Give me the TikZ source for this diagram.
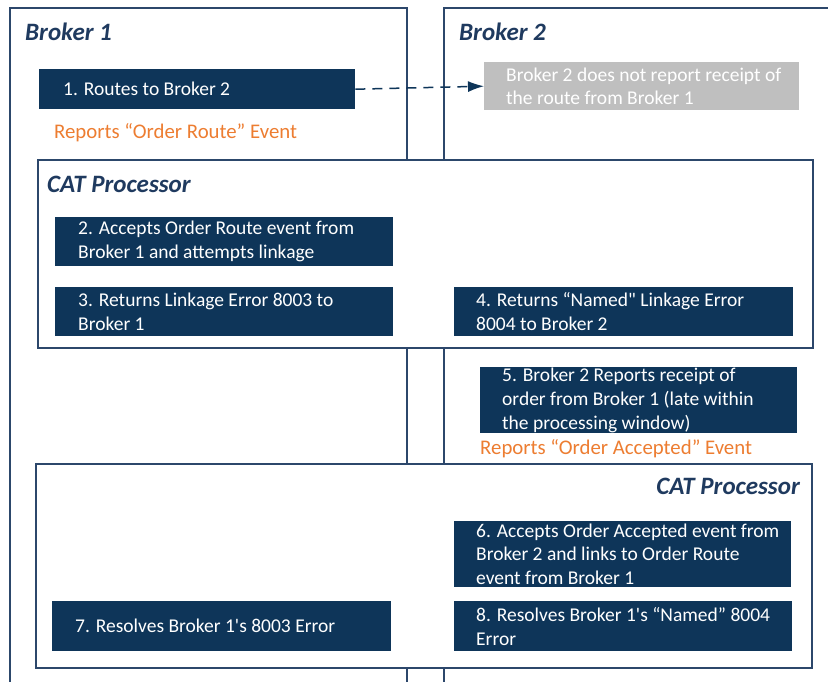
\documentclass[tikz,border=0pt]{standalone}
\usepackage{fontspec}
\setmainfont{Carlito}[Ligatures=TeXOff]
\usetikzlibrary{arrows.meta}
\definecolor{navy}{HTML}{0E3559}
\definecolor{frame}{HTML}{2C476B}
\definecolor{titleblue}{HTML}{1F3A5F}
\definecolor{orangeev}{HTML}{ED7D31}
\definecolor{greybox}{HTML}{BFBFBF}
\tikzset{
  brokerline/.style={draw=frame, line width=1.9pt},
  catbox/.style={draw=frame, line width=1.4pt, fill=white},
  stepbox/.style={rectangle, fill=navy, draw=none, anchor=north west, inner sep=0pt},
  greystep/.style={rectangle, fill=greybox, draw=none, anchor=north west, inner sep=0pt},
  steptext/.style={anchor=west, align=left, inner sep=0pt, text=white,
    font=\fontsize{19.5}{23.8}\selectfont},
  titletext/.style={inner sep=0pt, text=titleblue,
    font=\fontsize{25}{30}\selectfont\bfseries\itshape},
  eventtext/.style={anchor=west, inner sep=0pt, text=orangeev,
    font=\fontsize{20.8}{25}\selectfont},
}
\begin{document}
\begin{tikzpicture}[x=1pt, y=-1pt]
\useasboundingbox (0,0) rectangle (828,681);
\clip (0,0) rectangle (828,681);
\fill[white] (0,0) rectangle (828,681);
% broker frames (open at bottom / right)
\draw[brokerline] (10,700) -- (10,8) -- (407,8) -- (407,700);
\draw[brokerline] (444,700) -- (444,8) -- (850,8);
\node[titletext, anchor=west] (br1) at (25,32) {Broker 1};
\node[titletext, anchor=west] (br2) at (459,32) {Broker 2};
% step 1
\node[stepbox, minimum width=316, minimum height=40] (b1) at (39,69) {};
\node[steptext] (t1) at ([xshift=24]b1.west) {1. Routes to Broker 2};
\node[greystep, minimum width=315, minimum height=48] (g1) at (484,62) {};
\node[steptext] (tg) at ([xshift=22]g1.west) {Broker 2 does not report receipt of\\the route from Broker 1};
\draw[navy, line width=1.5pt, dash pattern=on 10pt off 7pt, -{Latex[length=16pt,width=11pt]}] (b1.east) -- (g1.west);
\node[eventtext] (ev1) at (54,133) {Reports “Order Route” Event};
% CAT processor 1
\draw[catbox] (38,160) rectangle (813,348);
\node[titletext, anchor=west] (cat1) at (47,184) {CAT Processor};
\node[stepbox, minimum width=338, minimum height=49] (b2) at (55,217) {};
\node[steptext] (t2) at ([xshift=23]b2.west) {2. Accepts Order Route event from\\Broker 1 and attempts linkage};
\node[stepbox, minimum width=338, minimum height=49] (b3) at (55,287) {};
\node[steptext] (t3) at ([xshift=23]b3.west) {3. Returns Linkage Error 8003 to\\Broker 1};
\node[stepbox, minimum width=339, minimum height=49] (b4) at (454,287) {};
\node[steptext] (t4) at ([xshift=22]b4.west) {4. Returns “Named" Linkage Error\\8004 to Broker 2};
% step 5
\node[stepbox, minimum width=317, minimum height=66] (b5) at (480,367) {};
\node[steptext] (t5) at ([xshift=22]b5.west) {5. Broker 2 Reports receipt of\\order from Broker 1 (late within\\the processing window)};
\node[eventtext] (ev2) at (480,449) {Reports “Order Accepted” Event};
% CAT processor 2
\draw[catbox] (36,464) rectangle (812,668);
\node[titletext, anchor=east] (cat2) at (800,486) {CAT Processor};
\node[stepbox, minimum width=337, minimum height=66] (b6) at (454,521) {};
\node[steptext] (t6) at ([xshift=22]b6.west) {6. Accepts Order Accepted event from\\Broker 2 and links to Order Route\\event from Broker 1};
\node[stepbox, minimum width=339, minimum height=50] (b7) at (52,601) {};
\node[steptext] (t7) at ([xshift=23]b7.west) {7. Resolves Broker 1's 8003 Error};
\node[stepbox, minimum width=338, minimum height=50] (b8) at (454,601) {};
\node[steptext] (t8) at ([xshift=22]b8.west) {8. Resolves Broker 1's “Named” 8004\\Error};
\end{tikzpicture}
\end{document}
